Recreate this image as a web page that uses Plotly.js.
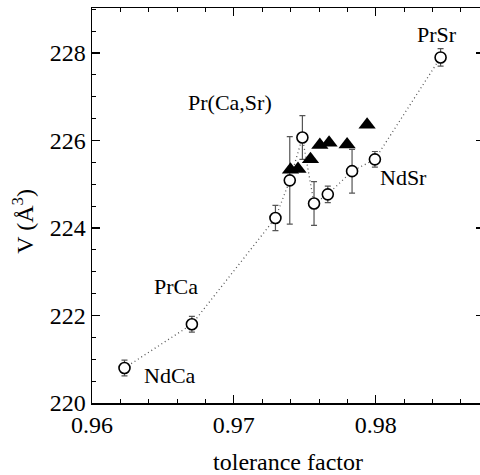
<!DOCTYPE html>
<html>
<head>
<meta charset="utf-8">
<script src="https://cdn.plot.ly/plotly-3.0.1.min.js"></script>
<style>
html,body{margin:0;padding:0;overflow:hidden;background:#fff;}
#chart{width:484px;height:475px;}
</style>
</head>
<body>
<div id="chart"></div>
<script>
// Open circles: tolerance factor vs cell volume (with error bars)
const circleT = [0.96229, 0.96704, 0.97293, 0.97394, 0.97483, 0.97565, 0.97662, 0.97833, 0.97994, 0.98457];
const circleV = [220.80, 221.80, 224.23, 225.09, 226.07, 224.56, 224.77, 225.30, 225.57, 227.90];
const circleErr = [0.18, 0.18, 0.29, 1.0, 0.5, 0.5, 0.19, 0.5, 0.18, 0.2];

// Filled triangles: Pr(Ca,Sr) series
const triT = [0.97399, 0.97452, 0.97540, 0.97606, 0.97671, 0.97798, 0.97939];
const triV = [225.33, 225.35, 225.57, 225.90, 225.95, 225.91, 226.36];

// Text labels
const labelText = ["PrSr", "Pr(Ca,Sr)", "NdSr", "PrCa", "NdCa"];

const serif = "'Liberation Serif', 'Times New Roman', serif";

const traces = [
  {
    x: circleT, y: circleV, type: "scatter", mode: "lines+markers",
    line: {color: "#555", width: 1.3, dash: "1px,3px"},
    marker: {symbol: "circle", size: 11, color: "#fff", line: {color: "#000", width: 1.6}},
    error_y: {type: "data", array: circleErr, visible: true, color: "#555", thickness: 1.2, width: 3},
    showlegend: false, hoverinfo: "skip"
  },
  {
    x: triT, y: triV, type: "scatter", mode: "markers",
    marker: {symbol: "triangle-up", size: 15, color: "#000"},
    showlegend: false, hoverinfo: "skip"
  }
];

const labelPos = [
  [0.98429, 228.43], [0.96971, 226.86], [0.98198, 225.16], [0.96594, 222.66], [0.96552, 220.62]
];

const annotations = labelText.map((t, i) => ({
  x: labelPos[i][0], y: labelPos[i][1], xref: "x", yref: "y",
  text: t, showarrow: false, font: {family: serif, size: 22, color: "#000"},
  xanchor: "center", yanchor: "middle"
}));

annotations.push({
  xref: "paper", yref: "paper", x: -0.175, y: 0.46,
  text: "V (Å<sup>3</sup>)", textangle: -90, showarrow: false,
  font: {family: serif, size: 24, color: "#000"},
  xanchor: "center", yanchor: "middle"
});

const axisCommon = {
  showgrid: false, zeroline: false, showline: true, linecolor: "#000", linewidth: 1.5,
  mirror: "ticks", ticks: "inside", ticklen: 8, tickwidth: 1.2, tickcolor: "#000",
  tickfont: {family: serif, size: 24, color: "#000"}
};

const layout = {
  width: 484, height: 475,
  margin: {l: 92, r: 0, t: 8, b: 72},
  paper_bgcolor: "#fff", plot_bgcolor: "#fff",
  xaxis: Object.assign({}, axisCommon, {
    range: [0.96, 0.98763], tickvals: [0.96, 0.97, 0.98], ticktext: ["0.96", "0.97", "0.98"],
    minor: {dtick: 0.002, tick0: 0.96, ticks: "inside", ticklen: 4, tickcolor: "#000", tickwidth: 1},
    title: {text: "tolerance factor", font: {family: serif, size: 24, color: "#000"}, standoff: 18}
  }),
  yaxis: Object.assign({}, axisCommon, {
    range: [220, 229.03], tickvals: [220, 222, 224, 226, 228],
    minor: {dtick: 0.5, tick0: 220, ticks: "inside", ticklen: 4, tickcolor: "#000", tickwidth: 1}
  }),
  annotations: annotations
};

Plotly.newPlot("chart", traces, layout, {displayModeBar: false, staticPlot: true});
</script>
</body>
</html>
